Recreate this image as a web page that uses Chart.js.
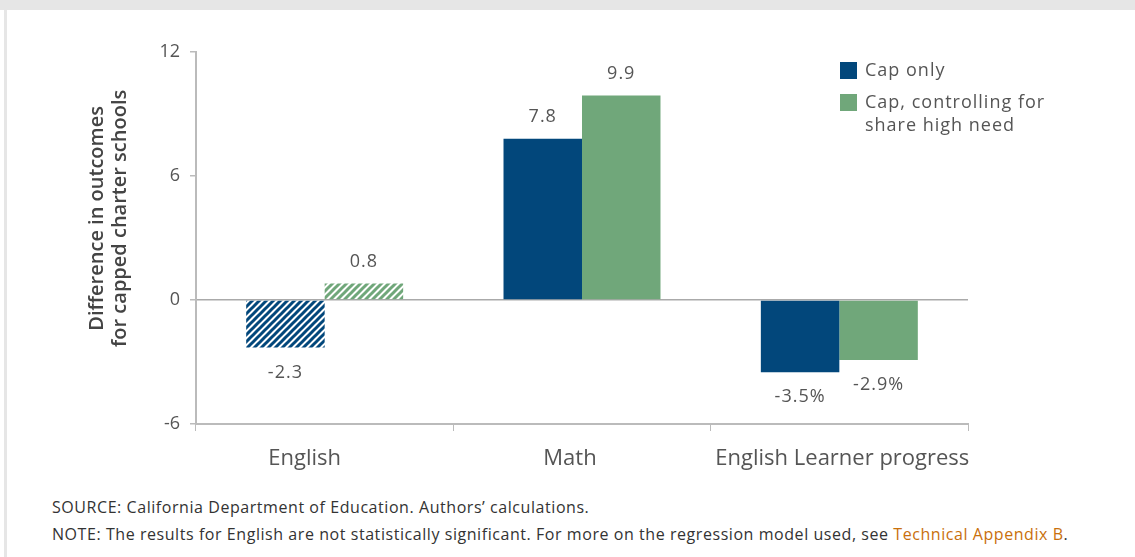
<!DOCTYPE html>
<html>
<head>
<meta charset="utf-8">
<script src="https://cdn.jsdelivr.net/npm/chart.js@4.4.1/dist/chart.umd.min.js"></script>
<style>
  body { margin: 0; background: #fff; font-family: "Open Sans", Lato, sans-serif; }
  #wrap { position: relative; width: 1135px; height: 557px; overflow: hidden; }
  #topbar { position: absolute; left: 0; top: 0; width: 1135px; height: 10px; background: #e6e6e6; }
  #leftbar { position: absolute; left: 4px; top: 10px; width: 3px; height: 547px; background: #e6e6e6; }
  #chartbox { position: absolute; left: 0; top: 0; width: 1135px; height: 480px; }
  .legend { position: absolute; left: 840px; top: 58px; color: #555; font-size: 18px; line-height: 23px; letter-spacing: 1px; }
  .legend .item { position: relative; padding-left: 25px; margin-bottom: 9px; white-space: nowrap; }
  .legend .sw { position: absolute; left: 0; top: 4px; width: 17px; height: 17px; }
  .foot { position: absolute; left: 52px; color: #333; font-size: 16px; letter-spacing: 0.56px; white-space: nowrap; }
  .foot a { color: #c9700c; text-decoration: none; }
</style>
</head>
<body>
<div id="wrap">
  <div id="chartbox"><canvas id="diff-chart"></canvas></div>
  <div id="topbar"></div>
  <div id="leftbar"></div>
  <div class="legend">
    <div class="item"><span class="sw" style="background:#02477b"></span>Cap only</div>
    <div class="item"><span class="sw" style="background:#70a77a"></span>Cap, controlling for<br>share high need</div>
  </div>
  <div class="foot" style="top:496px">SOURCE: California Department of Education. Authors’ calculations.</div>
  <div class="foot" style="top:523px">NOTE: The results for English are not statistically significant. For more on the regression model used, see <a href="#">Technical Appendix B</a>.</div>
</div>
<script>
/* BAR: CAPPED CHARTER SCHOOLS */
const categories = ['English', 'Math', 'English Learner progress'];
const capOnly = [-2.3, 7.8, -3.5];
const capControlled = [0.8, 9.9, -2.9];
const capOnlyLabels = ['-2.3', '7.8', '-3.5%'];
const capControlledLabels = ['0.8', '9.9', '-2.9%'];
const yTicks = [-6, 0, 6, 12];
const yTitle = ['Difference in outcomes', 'for capped charter schools'];

// category labels in the original sit a little left of the bar groups
const labelNudge = [-20, -12, 3];

function hatch(color) {
    const c = document.createElement('canvas');
    c.width = 7; c.height = 7;
    const g = c.getContext('2d');
    g.strokeStyle = color;
    g.lineWidth = 3;
    g.beginPath();
    g.moveTo(-2, 9); g.lineTo(9, -2);
    g.moveTo(-9, 9); g.lineTo(2, -2);
    g.moveTo(5, 9); g.lineTo(16, -2);
    g.stroke();
    return g.createPattern(c, 'repeat');
}

const blue = '#02477b';
const green = '#70a77a';

const valueLabels = {
    id: 'valueLabels',
    afterDatasetsDraw(chart) {
        const ctx = chart.ctx;
        ctx.save();
        ctx.font = '18px "Open Sans", sans-serif';
        ctx.letterSpacing = '1px';
        ctx.fillStyle = '#555';
        ctx.textAlign = 'center';
        ctx.textBaseline = 'middle';
        const texts = [capOnlyLabels, capControlledLabels];
        chart.data.datasets.forEach(function(ds, di) {
            chart.getDatasetMeta(di).data.forEach(function(bar, i) {
                const v = ds.data[i];
                const y = v >= 0 ? bar.y - 22 : bar.y + 25;
                ctx.fillText(texts[di][i], bar.x, y);
            });
        });

        // x category labels
        const xs = chart.scales.x;
        ctx.font = '22px "Open Sans", sans-serif';
        ctx.letterSpacing = '0px';
        categories.forEach(function(c, i) {
            ctx.fillText(c, xs.getPixelForTick(i) + labelNudge[i], xs.top + 35);
        });

        // y title, two lines, rotated
        const ys = chart.scales.y;
        ctx.font = '600 20px "Open Sans", sans-serif';
        ctx.fillStyle = '#444';
        ctx.translate(ys.left + 11, ys.getPixelForValue(3.95));
        ctx.rotate(-Math.PI / 2);
        yTitle.forEach(function(t, i) {
            ctx.fillText(t, 0, i * 23);
        });
        ctx.restore();
    }
};

const ctx_diff = document.getElementById('diff-chart').getContext('2d');
const diffChart = new Chart(ctx_diff, {
    type: 'bar',
    data: {
        labels: categories,
        datasets: [{
            label: 'Cap only',
            data: capOnly,
            backgroundColor: [hatch(blue), blue, blue],
            borderWidth: 0
        }, {
            label: 'Cap, controlling for share high need',
            data: capControlled,
            backgroundColor: [hatch(green), green, green],
            borderWidth: 0
        }]
    },
    options: {
        responsive: true,
        maintainAspectRatio: false,
        animation: false,
        categoryPercentage: 0.61,
        barPercentage: 1,
        layout: { padding: { left: 86, right: 167, top: 52, bottom: 0 } },
        plugins: { legend: { display: false }, tooltip: { enabled: false } },
        scales: {
            x: {
                grid: { offset: true, drawOnChartArea: false, tickLength: 7, color: '#bbb' },
                border: { color: '#bbb', width: 2 },
                ticks: { display: false },
                afterFit: function(s) { s.height = 56; }
            },
            y: {
                min: -6,
                max: 12,
                afterBuildTicks: function(s) { s.ticks = yTicks.map(v => ({ value: v })); },
                grid: {
                    color: c => (c.tick && c.tick.value === 0) ? '#aaa' : 'rgba(0,0,0,0)',
                    tickColor: '#bbb',
                    tickLength: 6,
                    lineWidth: 1.5
                },
                border: { color: '#bbb', width: 2 },
                ticks: { color: '#555', font: { family: 'Open Sans', size: 18 }, padding: 10 },
                afterFit: function(s) { s.width = 110; }
            }
        }
    },
    plugins: [valueLabels]
});
</script>
</body>
</html>
